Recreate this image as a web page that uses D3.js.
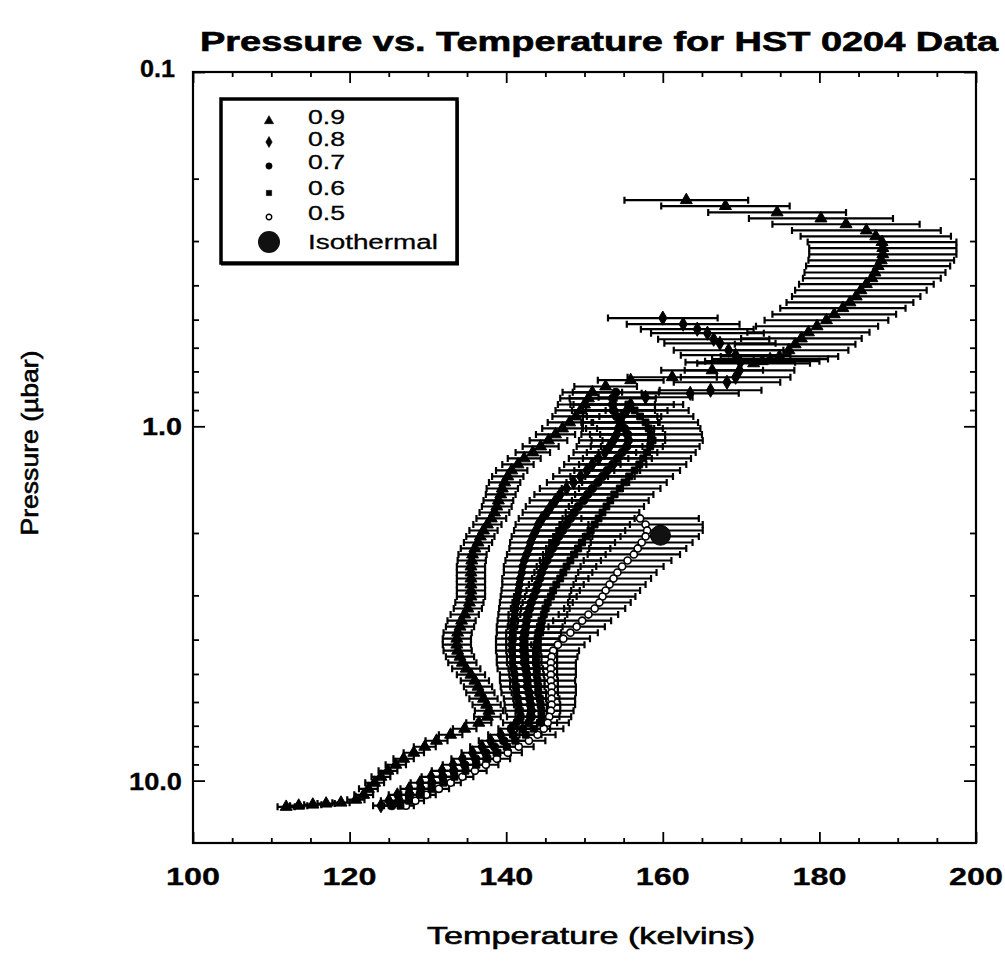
<!DOCTYPE html>
<html>
<head>
<meta charset="utf-8">
<script src="https://cdn.jsdelivr.net/npm/d3@7"></script>
<style>
  body { margin: 0; background: #fff; }
  svg { display: block; }
  text { font-family: "Liberation Sans", Arial, Helvetica, sans-serif; fill: #000; }
</style>
</head>
<body>
<svg id="chart" width="1005" height="977"></svg>
<script>
// ---- text ----
const title = "Pressure vs. Temperature for HST 0204 Data";
const xLabel = "Temperature (kelvins)";
const yLabel = "Pressure (µbar)";
const xTickLabels = [100, 120, 140, 160, 180, 200];
const yTickLabels = [[0.1, "0.1"], [1, "1.0"], [10, "10.0"]];
const seriesNames = ["0.9", "0.8", "0.7", "0.6", "0.5"];
const isoName = "Isothermal";

// ---- profiles: [pressure (µbar), temperature (K), ± error (K)] ----
const s09 = [
  [0.230,163.0,7.9],[0.239,168.0,8.2],[0.249,174.6,8.8],[0.259,180.2,9.2],[0.269,183.4,9.4],
  [0.280,186.0,9.5],[0.291,187.2,9.6],[0.302,188.0,9.5],[0.314,188.1,9.4],[0.327,188.1,9.4],
  [0.340,187.9,9.3],[0.353,187.5,9.2],[0.368,187.1,9.0],[0.382,186.7,8.8],[0.397,186.0,8.6],
  [0.413,185.3,8.4],[0.430,184.7,8.2],[0.447,183.9,8.1],[0.464,183.0,8.0],[0.483,181.9,7.9],
  [0.502,180.9,7.9],[0.522,179.7,7.8],[0.543,178.6,7.8],[0.565,177.7,7.7],[0.587,176.9,7.7],
  [0.610,176.1,7.6],[0.635,174.9,7.5],[0.646,173.7,7.4],[0.655,172.7,7.3],[0.664,171.6,7.2],
  [0.695,166.3,6.5],[0.727,161.2,5.7],[0.741,155.9,4.2],[0.772,152.7,4.0],[0.802,151.0,3.8],
  [0.834,150.5,3.6],[0.868,150.0,3.4],[0.902,149.5,3.2],[0.938,148.9,3.0],[0.975,148.1,2.8],
  [1.014,147.2,2.6],[1.054,146.3,2.5],[1.096,145.4,2.4],[1.140,144.4,2.3],[1.185,143.4,2.2],
  [1.232,142.3,2.1],[1.281,141.5,2.0],[1.332,140.7,2.0],[1.385,140.2,2.0],[1.440,139.8,2.0],
  [1.498,139.5,2.0],[1.557,139.3,1.9],[1.619,139.0,1.9],[1.684,138.8,1.9],[1.751,138.5,1.9],
  [1.820,138.1,1.9],[1.893,137.6,1.8],[1.968,137.1,1.8],[2.046,136.7,1.8],[2.128,136.4,1.8],
  [2.212,136.0,1.8],[2.300,135.7,1.8],[2.392,135.6,1.8],[2.487,135.5,1.8],[2.586,135.5,1.8],
  [2.689,135.5,1.8],[2.796,135.5,1.8],[2.907,135.5,1.8],[3.023,135.5,1.8],[3.143,135.3,1.8],
  [3.268,135.1,1.8],[3.398,134.7,1.8],[3.536,134.3,1.8],[3.677,134.1,1.8],[3.823,133.8,1.8],
  [3.975,133.7,1.8],[4.133,133.7,1.8],[4.298,133.8,1.8],[4.469,134.1,1.8],[4.647,134.4,1.8],
  [4.832,134.9,1.8],[5.024,135.5,1.8],[5.224,136.0,1.8],[5.432,136.4,1.8],[5.648,136.7,1.8],
  [5.873,137.1,1.8],[6.107,137.5,1.8],[6.350,137.8,1.8],[6.603,137.6,1.7],[6.866,136.5,1.6],
  [7.139,134.7,1.5],[7.423,132.9,1.5],[7.718,131.1,1.4],[8.025,129.6,1.4],[8.345,128.2,1.3],
  [8.677,126.9,1.3],[9.022,125.9,1.3],[9.381,124.9,1.2],[9.754,124.0,1.2],[10.14,123.2,1.2],
  [10.55,122.4,1.2],[10.97,121.8,1.2],[11.32,120.8,1.1],[11.54,118.9,1.1],[11.61,117.0,1.1],
  [11.69,115.3,1.1],[11.77,113.5,1.1],[11.86,111.9,1.1]
];

const s08 = [
  [0.495,160.0,7.0],[0.515,162.6,7.2],[0.532,164.4,7.2],[0.546,165.7,7.2],[0.568,166.5,7.1],
  [0.583,167.3,7.1],[0.610,168.4,7.0],[0.630,169.3,7.0],[0.660,169.9,7.0],[0.695,169.8,7.0],
  [0.727,169.3,7.0],[0.751,168.2,6.8],[0.791,166.1,6.5],[0.807,163.5,6.2],[0.828,157.8,6.0],
  [0.868,155.9,5.5],[0.902,155.4,5.2],[0.938,154.8,5.0],[0.975,154.6,4.8],[1.014,154.3,4.6],
  [1.054,154.1,4.5],[1.096,153.7,4.4],[1.140,153.2,4.2],[1.185,152.6,4.0],[1.232,151.8,3.8],
  [1.281,151.0,3.6],[1.332,150.3,3.5],[1.385,149.5,3.5],[1.440,148.6,3.4],[1.498,147.7,3.4],
  [1.557,146.9,3.3],[1.619,146.3,3.3],[1.684,145.7,3.2],[1.751,145.2,3.1],[1.820,144.6,3.0],
  [1.893,144.1,2.9],[1.968,143.8,2.8],[2.046,143.4,2.7],[2.128,143.1,2.6],[2.212,142.9,2.5],
  [2.300,142.6,2.5],[2.392,142.3,2.4],[2.487,142.1,2.4],[2.586,142.0,2.3],[2.689,141.8,2.3],
  [2.796,141.7,2.2],[2.907,141.6,2.2],[3.023,141.5,2.2],[3.143,141.3,2.1],[3.268,141.2,2.1],
  [3.398,141.1,2.1],[3.536,140.9,2.0],[3.677,140.8,2.0],[3.823,140.8,2.0],[3.975,140.7,2.0],
  [4.133,140.7,2.0],[4.298,140.7,2.0],[4.469,140.8,2.0],[4.647,140.8,2.0],[4.832,140.9,2.0],
  [5.024,141.1,1.9],[5.224,141.1,1.9],[5.432,141.2,1.9],[5.648,141.3,1.9],[5.873,141.5,1.8],
  [6.107,141.6,1.8],[6.350,141.7,1.8],[6.603,141.8,1.7],[6.866,141.3,1.7],[7.139,140.6,1.6],
  [7.423,139.3,1.6],[7.718,138.0,1.5],[8.025,136.9,1.5],[8.345,135.7,1.4],[8.677,134.4,1.4],
  [9.022,133.2,1.3],[9.381,131.8,1.3],[9.754,130.4,1.2],[10.14,129.0,1.2],[10.55,127.6,1.1],
  [10.97,126.1,1.1],[11.40,125.0,1.0],[11.77,124.0,1.0]
];

const s07 = [
  [0.802,154.0,5.5],[0.834,153.6,5.5],[0.868,153.6,5.4],[0.902,153.7,5.3],[0.938,154.1,5.2],
  [0.975,154.6,5.0],[1.014,155.1,4.9],[1.054,155.5,4.8],[1.096,155.6,4.7],[1.140,155.4,4.6],
  [1.185,154.8,4.5],[1.232,154.2,4.4],[1.281,153.6,4.3],[1.332,152.9,4.2],[1.385,152.3,4.1],
  [1.440,151.7,4.0],[1.498,151.0,3.9],[1.557,150.4,3.8],[1.619,149.9,3.7],[1.684,149.2,3.6],
  [1.751,148.7,3.5],[1.820,148.2,3.4],[1.893,147.7,3.3],[1.968,147.2,3.2],[2.046,146.7,3.1],
  [2.128,146.3,3.0],[2.212,145.9,2.9],[2.300,145.5,2.8],[2.392,145.2,2.8],[2.487,144.8,2.7],
  [2.586,144.5,2.7],[2.689,144.3,2.6],[2.796,144.0,2.6],[2.907,143.8,2.5],[3.023,143.5,2.5],
  [3.143,143.2,2.4],[3.268,143.0,2.4],[3.398,142.7,2.4],[3.536,142.6,2.3],[3.677,142.5,2.3],
  [3.823,142.3,2.3],[3.975,142.2,2.2],[4.133,142.2,2.2],[4.298,142.2,2.2],[4.469,142.3,2.2],
  [4.647,142.3,2.2],[4.832,142.5,2.2],[5.024,142.6,2.2],[5.224,142.7,2.2],[5.432,142.7,2.2],
  [5.648,142.9,2.2],[5.873,143.0,2.1],[6.107,143.1,2.1],[6.350,143.2,2.0],[6.603,143.2,2.0],
  [6.866,142.9,1.9],[7.139,142.1,1.8],[7.423,140.9,1.7],[7.718,139.7,1.6],[8.025,138.5,1.5],
  [8.345,137.4,1.5],[8.677,136.1,1.4],[9.022,134.7,1.4],[9.381,133.3,1.3],[9.754,131.9,1.3],
  [10.14,130.5,1.2],[10.55,129.1,1.2],[10.97,127.7,1.1],[11.40,126.3,1.1],[11.77,125.4,1.0]
];

const s06 = [
  [0.868,155.6,7.0],[0.902,156.4,6.9],[0.938,157.1,6.8],[0.975,157.8,6.7],[1.014,158.2,6.6],
  [1.054,158.5,6.5],[1.096,158.7,6.4],[1.140,158.4,6.3],[1.185,158.0,6.2],[1.232,157.5,6.1],
  [1.281,157.0,6.0],[1.332,156.4,5.8],[1.385,155.7,5.6],[1.440,155.1,5.4],[1.498,154.5,5.2],
  [1.557,153.8,5.0],[1.619,153.3,4.9],[1.684,152.8,4.8],[1.751,152.3,4.7],[1.820,151.8,4.6],
  [1.893,151.3,4.5],[1.968,150.8,4.4],[2.046,150.3,4.3],[2.128,149.7,4.2],[2.212,149.2,4.1],
  [2.300,148.7,4.0],[2.392,148.2,3.9],[2.487,147.7,3.8],[2.586,147.3,3.7],[2.689,146.9,3.6],
  [2.796,146.4,3.5],[2.907,146.0,3.4],[3.023,145.7,3.3],[3.143,145.3,3.2],[3.268,145.0,3.1],
  [3.398,144.8,3.0],[3.536,144.5,3.0],[3.677,144.3,2.9],[3.823,144.1,2.9],[3.975,144.0,2.8],
  [4.133,143.9,2.8],[4.298,143.8,2.7],[4.469,143.8,2.7],[4.647,143.8,2.7],[4.832,143.9,2.6],
  [5.024,143.9,2.6],[5.224,144.0,2.6],[5.432,144.1,2.5],[5.648,144.1,2.5],[5.873,144.3,2.5],
  [6.107,144.4,2.5],[6.350,144.5,2.4],[6.603,144.5,2.3],[6.866,144.3,2.2],[7.139,143.5,2.1],
  [7.423,142.5,2.0],[7.718,141.2,1.9],[8.025,140.1,1.8],[8.345,138.9,1.7],[8.677,137.6,1.6],
  [9.022,136.2,1.5],[9.381,134.8,1.4],[9.754,133.4,1.4],[10.14,132.0,1.3],[10.55,130.5,1.2],
  [10.97,129.1,1.2],[11.40,127.6,1.1],[11.77,126.5,1.0]
];

const s05 = [
  [1.820,157.1,7.5],[1.893,157.8,7.3],[1.968,158.0,7.1],[2.046,157.8,6.8],[2.128,157.3,6.5],
  [2.212,156.8,6.2],[2.300,156.3,5.9],[2.392,155.5,5.6],[2.487,154.8,5.3],[2.586,154.2,5.0],
  [2.689,153.7,4.8],[2.796,153.2,4.6],[2.907,152.7,4.4],[3.023,152.3,4.2],[3.143,151.9,4.0],
  [3.268,151.3,3.9],[3.398,150.5,3.8],[3.536,149.7,3.7],[3.677,149.0,3.6],[3.823,148.2,3.5],
  [3.975,147.3,3.4],[4.133,146.6,3.4],[4.298,146.0,3.3],[4.469,145.8,3.3],[4.647,145.7,3.2],
  [4.832,145.7,3.2],[5.024,145.7,3.2],[5.224,145.7,3.1],[5.432,145.8,3.1],[5.648,145.8,3.1],
  [5.873,145.8,3.0],[6.107,145.8,3.0],[6.350,145.7,2.9],[6.603,145.5,2.8],[6.866,145.3,2.7],
  [7.139,144.8,2.5],[7.423,144.0,2.3],[7.718,142.9,2.1],[8.025,141.6,1.9],[8.345,140.2,1.8],
  [8.677,138.8,1.7],[9.022,137.4,1.6],[9.381,136.0,1.5],[9.754,134.4,1.4],[10.14,132.9,1.3],
  [10.55,131.4,1.3],[10.97,129.8,1.2],[11.40,128.4,1.1],[11.77,127.2,1.0]
];

// isothermal solution: [pressure (µbar), temperature (K)]
const isothermal = [[2.03, 159.7]];

// ---- layout ----
const svg = d3.select("#chart");
const plot = { left: 193, right: 976, top: 72, bottom: 843 };
const x = d3.scaleLinear().domain([100, 200]).range([plot.left, plot.right]);
const y = d3.scaleLog().domain([0.1, 15]).range([plot.top, plot.bottom]);

function stretchedText(g, str, opts) {
  const t = g.append("text")
    .attr("x", opts.x).attr("y", opts.y)
    .attr("font-size", opts.size)
    .attr("font-weight", opts.bold ? "bold" : "normal")
    .attr("text-anchor", opts.anchor || "start")
    .attr("textLength", opts.len)
    .attr("lengthAdjust", "spacingAndGlyphs")
    .text(str);
  if (opts.heavy) t.attr("stroke", "#000").attr("stroke-width", opts.heavy);
  if (opts.transform) t.attr("transform", opts.transform);
  return t;
}

// title
stretchedText(svg, title, { x: 200, y: 51, size: 27, bold: true, len: 798, heavy: 0.6 });

// frame
svg.append("rect")
  .attr("x", plot.left).attr("y", plot.top)
  .attr("width", plot.right - plot.left).attr("height", plot.bottom - plot.top)
  .attr("fill", "none").attr("stroke", "#000").attr("stroke-width", 2.2);

// ---- axes (ticks point inward on all four sides) ----
const xTickValues = d3.range(100, 201, 5);
const yTickValues = y.ticks();
const isMajorX = d => d % 20 === 0;
const isMajorY = d => Math.abs(Math.log10(d) - Math.round(Math.log10(d))) < 1e-9;

function styleAxis(g, len, isMajor, sign, horizontal) {
  g.select(".domain").remove();
  g.selectAll(".tick text").remove();
  g.selectAll(".tick line")
    .attr("stroke", "#000").attr("stroke-width", 1.8)
    .each(function (d) {
      const L = (isMajor(d) ? len[1] : len[0]) * sign;
      if (horizontal) d3.select(this).attr("y2", L);
      else d3.select(this).attr("x2", L);
    });
}

svg.append("g").attr("transform", `translate(0,${plot.bottom})`)
  .call(d3.axisBottom(x).tickValues(xTickValues))
  .call(g => styleAxis(g, [5, 11], isMajorX, -1, true));
svg.append("g").attr("transform", `translate(0,${plot.top})`)
  .call(d3.axisTop(x).tickValues(xTickValues))
  .call(g => styleAxis(g, [5, 11], isMajorX, 1, true));
svg.append("g").attr("transform", `translate(${plot.left},0)`)
  .call(d3.axisLeft(y).tickValues(yTickValues))
  .call(g => styleAxis(g, [6, 12], isMajorY, 1, false));
svg.append("g").attr("transform", `translate(${plot.right},0)`)
  .call(d3.axisRight(y).tickValues(yTickValues))
  .call(g => styleAxis(g, [6, 12], isMajorY, -1, false));

// tick labels
const xtl = svg.append("g");
xTickLabels.forEach(v => {
  stretchedText(xtl, String(v), { x: x(v), y: 885, size: 24, bold: true, len: 54, anchor: "middle", heavy: 0.3 });
});
const ytl = svg.append("g");
const yLabelWidth = { "0.1": 35, "1.0": 40, "10.0": 53 };
yTickLabels.forEach(([v, s]) => {
  const yy = v === 0.1 ? y(v) + 5 : y(v) + 9;
  const xr = v === 0.1 ? 175 : 182;
  stretchedText(ytl, s, { x: xr, y: yy, size: 23, bold: true, len: yLabelWidth[s], anchor: "end", heavy: 0.3 });
});

// axis titles
stretchedText(svg, xLabel, { x: 591, y: 944, size: 24, bold: false, len: 328, anchor: "middle", heavy: 0.6 });
stretchedText(svg, yLabel, { x: 0, y: 0, size: 24, bold: false, len: 185, anchor: "middle", heavy: 0.6,
  transform: "translate(38,443) rotate(-90)" });

// ---- data ----
const series = [
  { name: seriesNames[0], data: s09, symbol: d3.symbolTriangle, size: 62, fill: "#000" },
  { name: seriesNames[1], data: s08, symbol: d3.symbolDiamond, size: 58, fill: "#000" },
  { name: seriesNames[2], data: s07, symbol: d3.symbolCircle, size: 52, fill: "#000" },
  { name: seriesNames[3], data: s06, symbol: d3.symbolSquare, size: 46, fill: "#000" },
  { name: seriesNames[4], data: s05, symbol: d3.symbolCircle, size: 40, fill: "#fff" }
];

const capH = 3.5;
const bars = svg.append("g").attr("stroke", "#000").attr("stroke-width", 2.2).attr("fill", "none");
series.forEach(s => {
  const g = bars.append("g");
  g.selectAll("path").data(s.data).join("path")
    .attr("d", d => {
      const x0 = x(d[1] - d[2]), x1 = x(d[1] + d[2]), yy = y(d[0]);
      return `M${x0},${yy}H${x1}M${x0},${yy - capH}V${yy + capH}M${x1},${yy - capH}V${yy + capH}`;
    });
});

const marks = svg.append("g");
series.slice().reverse().forEach(s => {
  marks.append("g").selectAll("path").data(s.data).join("path")
    .attr("transform", d => `translate(${x(d[1])},${y(d[0])})`)
    .attr("d", d3.symbol().type(s.symbol).size(s.size))
    .attr("fill", s.fill)
    .attr("stroke", "#000")
    .attr("stroke-width", s.fill === "#fff" ? 1.6 : 1);
});

svg.append("g").selectAll("circle").data(isothermal).join("circle")
  .attr("cx", d => x(d[1])).attr("cy", d => y(d[0])).attr("r", 10)
  .attr("fill", "#111").attr("stroke", "#000").attr("stroke-width", 1);

// ---- legend ----
const lg = svg.append("g");
lg.append("rect").attr("x", 221).attr("y", 99).attr("width", 236).attr("height", 164)
  .attr("fill", "#fff").attr("stroke", "#000").attr("stroke-width", 3.5);
lg.append("line").attr("x1", 221).attr("x2", 459).attr("y1", 264).attr("y2", 264)
  .attr("stroke", "#000").attr("stroke-width", 3);
lg.append("line").attr("x1", 458).attr("x2", 458).attr("y1", 101).attr("y2", 265)
  .attr("stroke", "#000").attr("stroke-width", 1.5);

const legendRows = [121, 142, 166, 193, 217];
const legendBase = [124, 146, 169, 195, 220];
series.forEach((s, i) => {
  lg.append("path")
    .attr("transform", `translate(269,${legendRows[i]})`)
    .attr("d", d3.symbol().type(s.symbol).size(s.size * 0.6))
    .attr("fill", s.fill).attr("stroke", "#000")
    .attr("stroke-width", s.fill === "#fff" ? 1.4 : 0.6);
  stretchedText(lg, s.name, { x: 308, y: legendBase[i], size: 20, len: 37, heavy: 0.3 });
});
lg.append("circle").attr("cx", 269).attr("cy", 242).attr("r", 11).attr("fill", "#111");
stretchedText(lg, isoName, { x: 308, y: 249, size: 20, len: 130, heavy: 0.3 });
</script>
</body>
</html>
